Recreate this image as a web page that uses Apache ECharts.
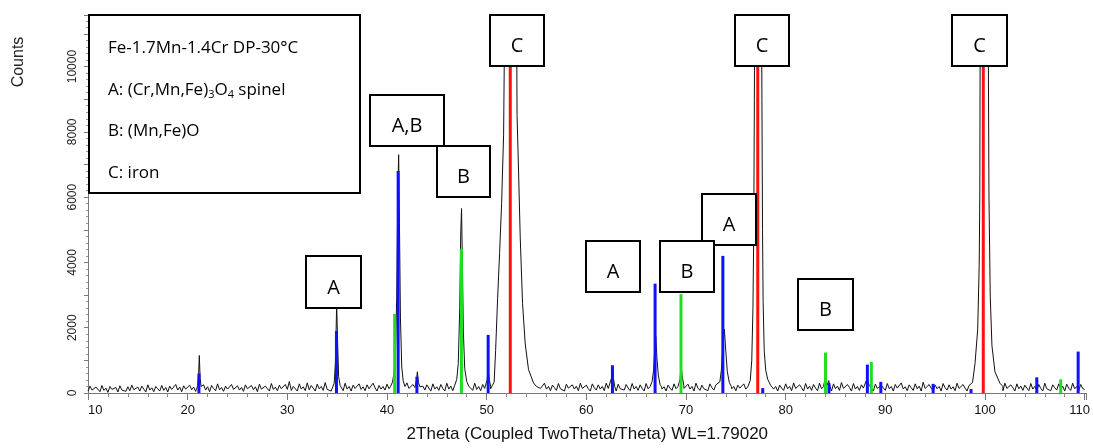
<!DOCTYPE html>
<html>
<head>
<meta charset="utf-8">
<script src="https://cdn.jsdelivr.net/npm/echarts@6/dist/echarts.min.js"></script>
<style>
html, body { margin: 0; padding: 0; background: #fff; }
#main { width: 1093px; height: 448px; }
</style>
</head>
<body>
<div id="main"></div>
<script>
// background counts, one value every 0.2 deg from 10 to 110
var bgStart = 10;
var bgStep = 0.2;
var background = [
    60, 210, 90, 30, 180, 120, 40, 230, 80, 150, 20, 200, 110, 60, 170, 30, 220, 90, 140, 50, 190, 70, 240, 100, 40,
    180, 60, 210, 120, 30, 250, 90, 160, 40, 200, 130, 60, 230, 80, 170, 30, 210, 110, 50, 260, 90, 180, 40, 220, 120,
    70, 240, 100, 180, 50, 220, 130, 60, 250, 90, 190, 40, 230, 140, 70, 280, 100, 170, 50, 210, 120, 80, 260, 110, 60,
    220, 90, 170, 50, 250, 130, 70, 230, 100, 190, 40, 270, 120, 80, 210, 150, 60, 290, 110, 180, 70, 240, 130, 90, 260,
    110, 350, 80, 200, 140, 60, 280, 120, 190, 70, 310, 100, 230, 150, 60, 270, 130, 200, 80, 320, 110, 170, 60, 250, 140,
    90, 260, 150, 70, 300, 120, 200, 60, 240, 140, 90, 280, 110, 190, 70, 250, 130, 80, 300, 160, 60, 230, 120, 200, 90,
    270, 130, 80, 240, 160, 60, 290, 120, 200, 80, 310, 140, 90, 260, 170, 70, 300, 130, 210, 90, 250, 150, 60, 280, 120,
    190, 80, 260, 140, 60, 300, 120, 210, 70, 250, 150, 90, 280, 130, 190, 60, 240, 160, 80, 300, 110, 200, 70, 260, 140,
    90, 280, 130, 200, 70, 250, 150, 80, 290, 120, 210, 60, 260, 140, 90, 300, 130, 190, 70, 240, 160, 80, 280, 120, 200,
    60, 260, 140, 90, 300, 120, 200, 70, 240, 160, 80, 290, 130, 190, 60, 270, 150, 90, 250, 120, 210, 70, 300, 140, 80,
    240, 130, 60, 280, 160, 90, 250, 120, 200, 70, 300, 140, 80, 230, 170, 60, 270, 130, 190, 90, 260, 150, 70, 290, 120,
    200, 80, 250, 140, 60, 290, 130, 210, 70, 260, 160, 90, 300, 120, 190, 60, 240, 150, 80, 280, 130, 200, 70, 250, 140,
    90, 270, 120, 200, 60, 300, 150, 80, 240, 130, 190, 70, 280, 160, 90, 250, 120, 210, 60, 290, 140, 80, 260, 130, 200,
    70, 240, 150, 90, 280, 120, 190, 60, 260, 140, 80, 300, 130, 210, 70, 250, 160, 90, 290, 120, 200, 60, 240, 150, 80,
    280, 130, 200, 70, 310, 140, 90, 250, 160, 60, 290, 120, 210, 80, 260, 150, 70, 300, 130, 190, 90, 240, 160, 60, 280,
    130, 210, 80, 320, 140, 90, 260, 170, 60, 290, 120, 200, 80, 250, 150, 70, 300, 130, 190, 60, 270, 140, 90, 240, 160,
    80, 290, 130, 200, 60, 260, 150, 90, 310, 120, 190, 70, 250, 160, 80, 280, 130, 210, 60, 330, 140, 90, 260, 150, 70,
    240, 130, 200, 60, 290, 160, 90, 250, 120, 190, 70, 300, 140, 80, 260, 150, 60, 230, 120, 200, 80, 270, 140, 90, 240,
    130, 60, 280, 150, 200, 80, 260, 120, 190, 70, 300, 140, 90, 250, 160, 60, 280, 130, 210, 80, 240, 150, 70, 290, 120,
    200, 80, 260, 140, 60, 300, 130, 190, 70, 250, 160, 90, 280, 120, 210, 60, 270, 150, 80, 300, 130, 200, 70, 260, 140,
    110
];

// peak profiles [2theta, counts]
var peak21 = [[20.9, 130], [21.0, 220], [21.1, 600], [21.17, 1150], [21.25, 450], [21.35, 200], [21.45, 150]];
var peak35 = [[34.55, 180], [34.7, 300], [34.82, 900], [34.95, 2700], [35.05, 1500], [35.15, 500], [35.3, 230], [35.45, 170]];
var peak41 = [[40.35, 200], [40.55, 330], [40.7, 600], [40.85, 1200], [40.98, 3000], [41.08, 6000], [41.17, 7300],
    [41.25, 5200], [41.35, 2300], [41.48, 800], [41.62, 380], [41.8, 200]];
var peak43 = [[42.85, 170], [42.95, 380], [43.05, 650], [43.15, 330], [43.3, 190]];
var peak47 = [[46.8, 240], [47.0, 420], [47.15, 900], [47.3, 2600], [47.4, 4900], [47.48, 5650], [47.56, 4100],
    [47.66, 1900], [47.8, 750], [48.0, 350], [48.2, 210]];
var peak50 = [[49.9, 190], [50.05, 400], [50.15, 720], [50.25, 420], [50.4, 210]];
var peak52 = [[50.55, 220], [50.75, 330], [50.9, 1300], [51.1, 2900], [51.3, 4300], [51.5, 5800], [51.7, 7900],
    [51.77, 10200], [51.85, 15000], [52.05, 30000], [52.37, 45000], [52.8, 30000], [53.0, 12000], [53.05, 8500],
    [53.2, 6800], [53.37, 4750], [53.6, 2750], [53.87, 1500], [54.2, 720], [54.7, 310], [55.0, 200]];
var peak62 = [[62.4, 190], [62.52, 450], [62.62, 820], [62.72, 450], [62.85, 200]];
var peak67 = [[66.4, 200], [66.6, 350], [66.75, 700], [66.88, 1400], [66.97, 1730], [67.08, 1100], [67.22, 550],
    [67.4, 260], [67.55, 190]];
var peak69 = [[69.25, 200], [69.4, 420], [69.52, 820], [69.62, 520], [69.78, 230]];
var peak74 = [[73.2, 200], [73.4, 340], [73.55, 700], [73.7, 1450], [73.85, 1950], [73.98, 1350], [74.15, 650],
    [74.35, 320], [74.55, 200]];
var peak77 = [[76.25, 200], [76.45, 380], [76.6, 1000], [76.72, 2600], [76.8, 5000], [76.86, 9000], [76.92, 14000],
    [77.2, 45000], [77.55, 14000], [77.62, 9000], [77.68, 5000], [77.74, 2800], [77.85, 1300], [78.0, 700],
    [78.2, 420], [78.5, 230]];
var peak84 = [[83.8, 200], [83.95, 430], [84.05, 380], [84.2, 260], [84.32, 380], [84.45, 200]];
var peak88 = [[88.0, 200], [88.15, 420], [88.25, 380], [88.4, 230]];
var peak100 = [[98.5, 210], [98.75, 320], [99.0, 900], [99.27, 1950], [99.42, 3900], [99.48, 6000], [99.52, 11000],
    [99.85, 45000], [100.33, 11000], [100.4, 6000], [100.53, 2950], [100.7, 1450], [101.0, 650], [101.5, 300],
    [101.8, 200]];
var peaks = [peak21, peak35, peak41, peak43, peak47, peak50, peak52, peak62, peak67, peak69, peak74, peak77,
    peak84, peak88, peak100];

// reference pattern sticks
var spinelX = [21.13, 34.93, 41.12, 43.0, 50.15, 62.62, 66.9, 73.7, 77.7, 84.35, 88.2, 89.55, 94.8, 98.6, 105.2, 109.35];
var spinelY = [600, 1900, 6800, 500, 1780, 850, 3350, 4200, 150, 300, 870, 340, 280, 120, 480, 1270];
var oxideX = [40.77, 47.47, 69.5, 84.0, 88.6, 107.6];
var oxideY = [2420, 4420, 3030, 1240, 950, 420];
var ironX = [52.37, 77.2, 99.83];
var ironY = [45000, 45000, 45000];

var xTicks = [10, 20, 30, 40, 50, 60, 70, 80, 90, 100, 110];

// annotation boxes (pixel layout)
var boxes = [
    { x: 306, y: 256, w: 55, h: 52, text: 'A' },
    { x: 370, y: 95, w: 74, h: 51, text: 'A,B' },
    { x: 437, y: 146, w: 53, h: 51, text: 'B' },
    { x: 490, y: 15, w: 54, h: 51, text: 'C' },
    { x: 586, y: 241, w: 54, h: 51, text: 'A' },
    { x: 702, y: 194, w: 54, h: 51, text: 'A' },
    { x: 660, y: 241, w: 54, h: 51, text: 'B' },
    { x: 735, y: 15, w: 54, h: 51, text: 'C' },
    { x: 798, y: 279, w: 55, h: 51, text: 'B' },
    { x: 952, y: 15, w: 55, h: 51, text: 'C' }
];

function buildScan() {
    var pts = [];
    for (var i = 0; i < background.length; i++) {
        var x = bgStart + i * bgStep;
        var inside = false;
        for (var k = 0; k < peaks.length; k++) {
            var p = peaks[k];
            if (x >= p[0][0] && x <= p[p.length - 1][0]) {
                inside = true;
                break;
            }
        }
        if (!inside) {
            pts.push([x, background[i]]);
        }
    }
    for (var k = 0; k < peaks.length; k++) {
        pts = pts.concat(peaks[k]);
    }
    pts.sort(function (a, b) { return a[0] - b[0]; });
    return pts;
}

function sticks(xs, ys) {
    var out = [];
    for (var i = 0; i < xs.length; i++) {
        out.push([xs[i], ys[i]]);
    }
    return out;
}

function buildGraphics() {
    var els = [];
    els.push({
        type: 'rect', z: 100,
        shape: { x: 89, y: 15, width: 271, height: 178 },
        style: { fill: '#fff', stroke: '#000', lineWidth: 2 }
    });
    var lines = [
        '{n|Fe-1.7Mn-1.4Cr DP-30°C}',
        '{n|A: (Cr,Mn,Fe)}{s|3}{n|O}{s|4}{n| spinel}',
        '{n|B: (Mn,Fe)O}',
        '{n|C: iron}'
    ];
    for (var i = 0; i < lines.length; i++) {
        els.push({
            type: 'text', z: 101, x: 108, y: 48 + i * 41.7,
            style: {
                text: lines[i],
                verticalAlign: 'middle',
                align: 'left',
                rich: {
                    n: { fontFamily: 'Open Sans', fontSize: 17, lineHeight: 22, fill: '#000' },
                    s: { fontFamily: 'Open Sans', fontSize: 11, lineHeight: 9, verticalAlign: 'bottom', fill: '#000' }
                }
            }
        });
    }
    for (var j = 0; j < boxes.length; j++) {
        var b = boxes[j];
        els.push({
            type: 'rect', z: 100 + j * 2,
            shape: { x: b.x, y: b.y, width: b.w, height: b.h },
            style: { fill: '#fff', stroke: '#000', lineWidth: 2 }
        });
        els.push({
            type: 'text', z: 101 + j * 2, x: b.x + b.w / 2, y: b.y + b.h / 2 + 6,
            style: {
                text: b.text, align: 'center', verticalAlign: 'middle',
                fontFamily: 'Open Sans', fontSize: 20, fill: '#000'
            }
        });
    }
    els.push({
        type: 'text', z: 100, x: 19, y: 62, rotation: Math.PI / 2,
        style: {
            text: 'Counts', align: 'center', verticalAlign: 'middle',
            fontFamily: 'Liberation Sans', fontSize: 16, fill: '#222'
        }
    });
    return els;
}

var option = {
    animation: false,
    backgroundColor: '#fff',
    grid: { left: 88, right: 3, top: 15, bottom: 51, containLabel: false },
    xAxis: {
        type: 'value',
        min: 10,
        max: 110.2,
        interval: 10,
        name: '2Theta (Coupled TwoTheta/Theta) WL=1.79020',
        nameLocation: 'middle',
        nameGap: 33,
        nameTextStyle: { fontFamily: 'Liberation Sans', fontSize: 17, color: '#111' },
        axisLine: { lineStyle: { color: '#777', width: 1 } },
        axisTick: { length: 7, lineStyle: { color: '#777' } },
        minorTick: { show: true, splitNumber: 5, length: 4, lineStyle: { color: '#888' } },
        splitLine: { show: false },
        axisLabel: {
            margin: 11,
            fontFamily: 'Liberation Sans',
            fontSize: 13,
            color: '#111',
            alignMinLabel: 'left',
            formatter: function (v) {
                if (xTicks.indexOf(v) < 0) return '';
                if (v === 110) return '{r|110}';
                return String(v);
            },
            rich: { r: { fontFamily: 'Liberation Sans', fontSize: 13, color: '#111', padding: [0, 10, 0, 0] } }
        }
    },
    yAxis: {
        type: 'value',
        min: 0,
        max: 11580,
        interval: 1000,
        axisLine: { show: true, lineStyle: { color: '#777', width: 1 } },
        axisTick: { show: true, length: 4, lineStyle: { color: '#777' } },
        minorTick: { show: true, splitNumber: 5, length: 2, lineStyle: { color: '#999' } },
        splitLine: { show: false },
        axisLabel: {
            rotate: 90,
            margin: 9,
            fontFamily: 'Liberation Sans',
            fontSize: 12,
            color: '#222',
            formatter: function (v) {
                return (v % 2000 === 0 && v <= 10000) ? String(v) : '';
            }
        }
    },
    series: [
        {
            type: 'line',
            data: buildScan(),
            showSymbol: false,
            clip: true,
            z: 2,
            lineStyle: { color: '#111', width: 1 }
        },
        {
            type: 'bar', data: sticks(spinelX, spinelY), barWidth: 3, barGap: '-100%', clip: true, z: 3,
            itemStyle: { color: '#1010ff' }
        },
        {
            type: 'bar', data: sticks(oxideX, oxideY), barWidth: 3, barGap: '-100%', clip: true, z: 3,
            itemStyle: { color: '#22dd22' }
        },
        {
            type: 'bar', data: sticks(ironX, ironY), barWidth: 3, barGap: '-100%', clip: true, z: 3,
            itemStyle: { color: '#ff1010' }
        }
    ],
    graphic: buildGraphics()
};

var myChart = echarts.init(document.getElementById('main'));
myChart.setOption(option);
</script>
</body>
</html>
